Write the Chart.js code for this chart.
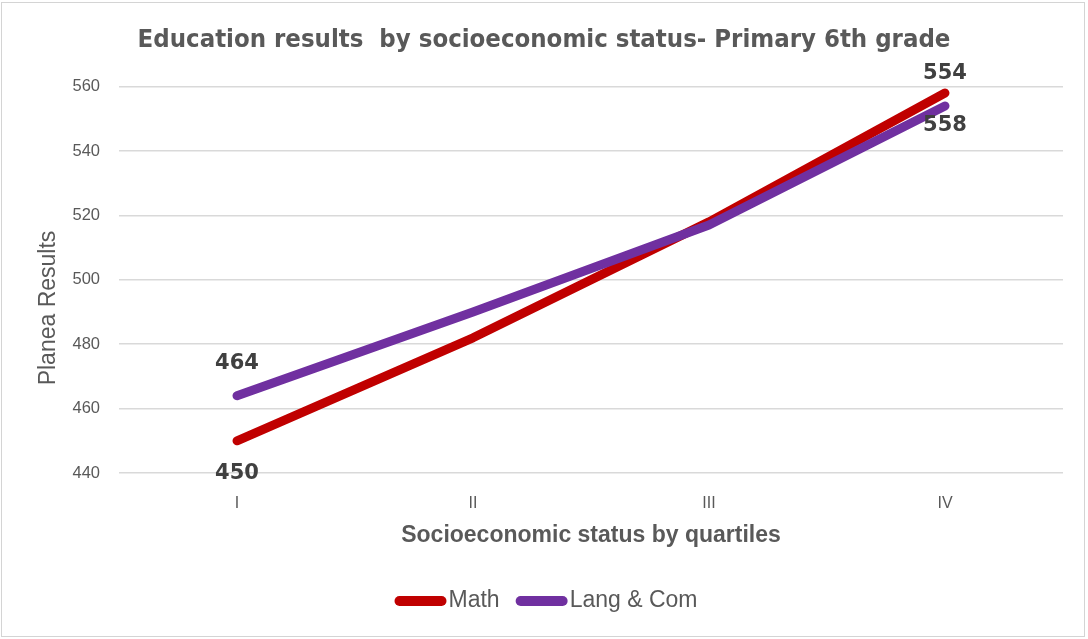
<!DOCTYPE html>
<html>
<head>
<meta charset="utf-8">
<script src="https://cdn.jsdelivr.net/npm/chart.js@4.4.1/dist/chart.umd.min.js"></script>
<style>
  html, body { margin: 0; padding: 0; background: #ffffff; }
  #wrap { position: relative; width: 1088px; height: 639px; }
  #frame { position: absolute; left: 1px; top: 2px; width: 1082px; height: 633px;
           border: 1.5px solid #d4d4d4; pointer-events: none; }
  canvas { display: block; }
</style>
</head>
<body>
<div id="wrap">
  <canvas id="chart" width="1088" height="639"></canvas>
  <div id="frame"></div>
</div>
<script>
// Quartiles of socioeconomic status
const quartiles = ['I', 'II', 'III', 'IV'];
// Planea scores, primary 6th grade
const mathScores = [450, 482, 518, 558];
const langScores = [464, 490, 517, 554];
// Value labels shown at the ends of each line
const labelledPoints = [0, 3];

const chartTitle = 'Education results  by socioeconomic status- Primary 6th grade';
const xTitle = 'Socioeconomic status by quartiles';
const yTitle = 'Planea Results';

const TEXT_GREY = '#595959';
const LABEL_DARK = '#404040';

// Value labels: Lang & Com above its points, Math below
const valueLabels = {
  id: 'valueLabels',
  afterDatasetsDraw(chart) {
    const ctx = chart.ctx;
    ctx.save();
    ctx.font = 'bold 21px "DejaVu Sans", sans-serif';
    ctx.fillStyle = LABEL_DARK;
    ctx.textAlign = 'center';
    ctx.textBaseline = 'middle';
    chart.data.datasets.forEach((ds, di) => {
      const meta = chart.getDatasetMeta(di);
      labelledPoints.forEach(i => {
        const pt = meta.data[i];
        const dy = ds.labelSide === 'above' ? -32 : 33;
        ctx.fillText(String(ds.data[i]), pt.x, pt.y + dy);
      });
    });
    ctx.restore();
  }
};

// Rotated y-axis title and bottom legend
const extras = {
  id: 'extras',
  afterDraw(chart) {
    const ctx = chart.ctx;
    ctx.save();
    ctx.fillStyle = TEXT_GREY;
    ctx.font = '23px "Liberation Sans", Arial, sans-serif';
    ctx.textAlign = 'center';
    ctx.textBaseline = 'middle';
    ctx.translate(49, 308);
    ctx.rotate(-Math.PI / 2);
    ctx.fillText(yTitle, 0, 0);
    ctx.restore();

    // legend
    const items = chart.data.datasets.map(ds => ({ text: ds.label, color: ds.borderColor }));
    ctx.save();
    ctx.font = '23px "Liberation Sans", Arial, sans-serif';
    ctx.textBaseline = 'middle';
    ctx.textAlign = 'left';
    const swatch = 52, gap = 2, itemGap = 16;
    let total = 0;
    items.forEach((it, k) => {
      total += swatch + gap + ctx.measureText(it.text).width + (k < items.length - 1 ? itemGap : 0);
    });
    let x = 546 - total / 2;
    const y = 601;
    items.forEach(it => {
      ctx.strokeStyle = it.color;
      ctx.lineWidth = 10;
      ctx.lineCap = 'round';
      ctx.beginPath();
      ctx.moveTo(x + 5, y);
      ctx.lineTo(x + swatch - 5, y);
      ctx.stroke();
      x += swatch + gap;
      ctx.fillStyle = TEXT_GREY;
      ctx.fillText(it.text, x, y);
      x += ctx.measureText(it.text).width + itemGap;
    });
    ctx.restore();
  }
};

new Chart(document.getElementById('chart'), {
  type: 'line',
  data: {
    labels: quartiles,
    datasets: [
      {
        label: 'Math',
        data: mathScores,
        borderColor: '#C00000',
        backgroundColor: '#C00000',
        borderWidth: 9,
        order: 2,
        labelSide: 'below'
      },
      {
        label: 'Lang & Com',
        data: langScores,
        borderColor: '#7030A0',
        backgroundColor: '#7030A0',
        borderWidth: 9,
        order: 1,
        labelSide: 'above'
      }
    ]
  },
  options: {
    responsive: false,
    animation: false,
    devicePixelRatio: 1,
    layout: { padding: { left: 25, right: 25, top: 0, bottom: 86 } },
    elements: {
      line: { tension: 0, borderCapStyle: 'round', borderJoinStyle: 'round', fill: false },
      point: { radius: 0, hoverRadius: 0 }
    },
    plugins: {
      legend: { display: false },
      tooltip: { enabled: false },
      title: {
        display: true,
        text: chartTitle,
        color: TEXT_GREY,
        font: { family: '"Liberation Sans Narrow", "DejaVu Sans Condensed", sans-serif', size: 25.5, weight: 'bold', lineHeight: 1.2 },
        padding: { top: 25, bottom: 31 }
      }
    },
    scales: {
      x: {
        offset: true,
        grid: { display: false },
        border: { display: false },
        ticks: {
          color: TEXT_GREY,
          font: { family: '"Liberation Sans", Arial, sans-serif', size: 16 },
          padding: 13
        },
        title: {
          display: true,
          text: xTitle,
          color: TEXT_GREY,
          font: { family: '"Liberation Sans", Arial, sans-serif', size: 23, weight: 'bold', lineHeight: 1.2 },
          padding: { top: 0, bottom: 4 }
        },
        afterFit(scale) { scale.height = 80; }
      },
      y: {
        min: 440,
        max: 560,
        grid: { color: '#d9d9d9', lineWidth: 1.5, drawTicks: false },
        border: { display: false },
        ticks: {
          stepSize: 20,
          color: TEXT_GREY,
          font: { family: '"Liberation Sans", Arial, sans-serif', size: 16.5 },
          padding: 19
        },
        afterFit(scale) { scale.width = 94; }
      }
    }
  },
  plugins: [valueLabels, extras]
});
</script>
</body>
</html>
